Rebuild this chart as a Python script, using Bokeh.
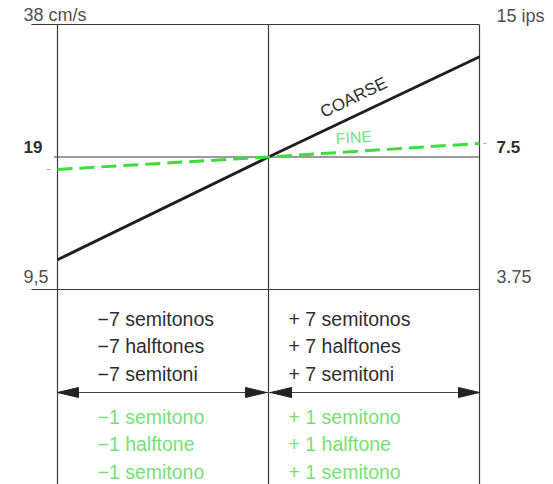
import numpy as np
from bokeh.plotting import figure
from bokeh.models import Range1d, LinearScale
from bokeh.core.properties import value
from bokeh.embed import file_html
from bokeh.resources import INLINE

# ---------------- data ----------------
semitone_ext = [-7, 0, 7]                 # coarse range in semitones
speed_cm = [38, 19, 9.5]                  # tape speed, cm/s
left_labels = ["38 cm/s", "19", "9,5"]
right_labels = ["15 ips", "7.5", "3.75"]
label_bold = [False, True, False]

coarse_x = [-7, 0, 7]
coarse_speed = [11.1, 19, 32.1]
fine_x = [-7, 0, 7]
fine_speed = [17.8, 19, 20.4]

coarse_left = ["\u22127 semitonos", "\u22127 halftones", "\u22127 semitoni"]
coarse_right = ["+ 7 semitonos", "+ 7 halftones", "+ 7 semitoni"]
fine_left = ["\u22121 semitono", "\u22121 halftone", "\u22121 semitono"]
fine_right = ["+ 1 semitono", "+ 1 halftone", "+ 1 semitono"]

# ---------------- layout ----------------
W, H = 553, 484
PX_PER_ST = 422 / 14.0          # pixels per semitone
PX_PER_OCT = 132.5              # pixels per octave of speed
FRAME_LEFT, FRAME_TOP, FRAME_BOTTOM = 57, 24, 289
x0 = -7 - FRAME_LEFT / PX_PER_ST
x_range = Range1d(x0, x0 + W / PX_PER_ST)
y_top = 38 * 2 ** (FRAME_TOP / PX_PER_OCT)
y_bot = 9.5 * 2 ** (-(H - FRAME_BOTTOM) / PX_PER_OCT)
y_range = Range1d(y_bot, y_top)

FONT = value("Liberation Sans")
GRID = "#3a3a3a"
GREEN_LINE = "#3fdc3f"
GREEN_TEXT = "#78df78"
DARK_TEXT = "#2e2e2e"
GRAY_TEXT = "#505050"

p = figure(width=W, height=H, x_range=x_range, y_range=y_range,
           y_axis_type="log", output_backend="svg", toolbar_location=None,
           min_border=0, outline_line_color=None)
p.axis.visible = False
p.grid.visible = False
p.background_fill_color = "white"
p.extra_y_ranges = {"rows": Range1d(H, 0)}
p.extra_y_scales = {"rows": LinearScale()}

lo, hi = semitone_ext[0], semitone_ext[-1]
# horizontal lines
p.segment(x0=[lo - 0.863, lo - 0.12, lo - 0.863], x1=[hi] * 3,
          y0=speed_cm, y1=speed_cm, line_color=GRID, line_width=1.2)
# vertical lines
p.segment(x0=semitone_ext, x1=semitone_ext, y0=[speed_cm[0]] * 3, y1=[1] * 3,
          line_color=GRID, line_width=1.2)

# small tick marks at fine-line ends
p.segment(x0=[lo - 0.36, hi + 0.13], x1=[lo - 0.23, hi + 0.23],
          y0=[fine_speed[0], fine_speed[-1]], y1=[fine_speed[0], fine_speed[-1]],
          line_color="#aaaaaa", line_width=1)

# curves
p.line(coarse_x, coarse_speed, line_color="#1e1e1e", line_width=3)
p.line(fine_x, fine_speed, line_color=GREEN_LINE, line_width=3, line_dash="15 7")

# axis value labels
for xs, labels, offs in ((lo - 1.128, left_labels, [-10, -10, -13]),
                         (hi + 0.564, right_labels, [-9, -10, -13])):
    for lab, spd, bold, off in zip(labels, speed_cm, label_bold, offs):
        p.text(x=[xs], y=[spd], text=[lab], text_font=FONT,
               text_font_size="17px" if bold else "18px",
               text_font_style="bold" if bold else "normal",
               text_color=DARK_TEXT if bold else GRAY_TEXT,
               text_align="left", text_baseline="middle", y_offset=off)

# line labels
def on_line(xv, xs, ys):
    return float(np.exp(np.interp(xv, xs, np.log(ys))))

cx = 2.83
p.text(x=[cx], y=[on_line(cx, coarse_x, coarse_speed)], text=["COARSE"],
       text_font=FONT, text_font_size="17px", text_color=DARK_TEXT,
       angle=0.45, text_align="center", text_baseline="middle", y_offset=-19)
fx = 2.83
p.text(x=[fx], y=[on_line(fx, fine_x, fine_speed)], text=["FINE"],
       text_font=FONT, text_font_size="16px", text_color=GREEN_TEXT,
       angle=0.065, text_align="center", text_baseline="middle", y_offset=-14)

# bottom text blocks
black_rows = [318, 345, 373]
green_rows = [416, 443, 471]
left_x = lo + 40 / PX_PER_ST
right_x = 0 + 20 / PX_PER_ST
for xs, labels, rows, col in ((left_x, coarse_left, black_rows, DARK_TEXT),
                              (right_x, coarse_right, black_rows, DARK_TEXT),
                              (left_x, fine_left, green_rows, GREEN_TEXT),
                              (right_x, fine_right, green_rows, GREEN_TEXT)):
    p.text(x=[xs] * 3, y=rows, text=labels, y_range_name="rows",
           text_font=FONT, text_font_size="19.5px", text_color=col,
           text_align="left", text_baseline="middle")

# double arrows
arrow_row = 392
head_len = 21 / PX_PER_ST
head_half = 5
gap = 2 / PX_PER_ST
p.segment(x0=[lo], x1=[hi], y0=[arrow_row], y1=[arrow_row], y_range_name="rows",
          line_color="#444444", line_width=1)
hx, hy = [], []
for a, b in ((lo, 0), (0, hi)):
    ta = a + (gap if a == 0 else 0)
    tb = b - (gap if b == 0 else 0)
    hx.append([ta, ta + head_len, ta + head_len])
    hy.append([arrow_row, arrow_row - head_half, arrow_row + head_half])
    hx.append([tb, tb - head_len, tb - head_len])
    hy.append([arrow_row, arrow_row - head_half, arrow_row + head_half])
p.patches(hx, hy, y_range_name="rows", fill_color="#222222", line_color="#222222")

open("out.html", "w").write(file_html(p, INLINE))
